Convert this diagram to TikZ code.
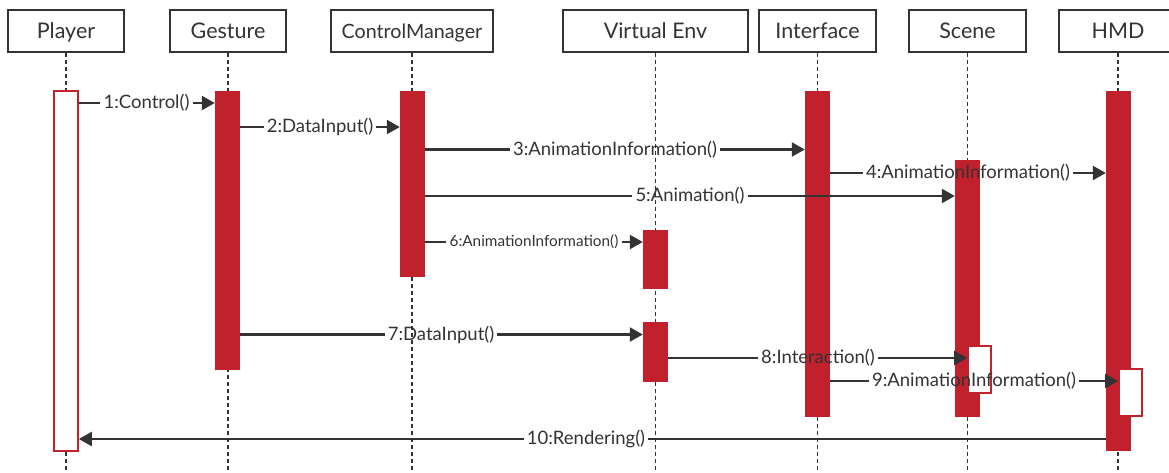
\documentclass[tikz,border=0pt]{standalone}
\usepackage{fontspec}
\setmainfont{Lato}
\usetikzlibrary{arrows.meta}
\definecolor{barred}{RGB}{193,33,44}
\definecolor{ink}{RGB}{51,51,51}
\begin{document}
\begin{tikzpicture}[x=1pt,y=-1pt,
  head/.style={draw=ink, line width=1.8pt, fill=white, minimum height=42pt, inner sep=0pt, text depth=0pt, text=ink, font=\fontsize{21.5}{24}\selectfont},
  life/.style={draw=ink, line width=1.9pt, dash pattern=on 4.5pt off 2.5pt},
  act/.style={fill=barred, draw=none, minimum width=25pt, inner sep=0pt},
  actw/.style={fill=white, draw=barred, line width=1.6pt, inner sep=0pt},
  msg/.style={draw=ink, line width=2.3pt},
  arr/.style={msg, -{Triangle[length=13pt,width=14pt]}},
  lbl/.style={text=ink, inner sep=3pt, font=\fontsize{18.5}{21}\selectfont},
  lbls/.style={lbl, font=\fontsize{15.3}{18}\selectfont}]
\useasboundingbox (0,0) rectangle (1169,472);
\coordinate (bottom) at (0,472);
% headers
\node[head, minimum width=116pt] (ph) at (66,31) {Player};
\node[head, minimum width=116pt] (gh) at (228,31) {Gesture};
\node[head, minimum width=162pt, font=\fontsize{19.7}{22}\selectfont] (ch) at (412,31) {ControlManager};
\node[head, minimum width=185pt] (vh) at (655.5,31) {Virtual Env};
\node[head, minimum width=117pt] (ih) at (817.5,31) {Interface};
\node[head, minimum width=117pt] (sh) at (967.5,31) {Scene};
\node[head, minimum width=118pt] (hh) at (1118,31) {HMD};
% lifelines
\foreach \h in {ph,gh,ch,vh,ih,sh,hh}
  \draw[life] (\h.south) -- (\h.south |- bottom);
% activation bars
\node[actw, minimum width=24pt, minimum height=360pt] (pb) at (66,271) {};
\node[act, minimum height=279pt] (gb) at (227.5,230.5) {};
\node[act, minimum height=186pt] (cb) at (412.5,184) {};
\node[act, minimum height=59pt] (v1) at (655.5,259.5) {};
\node[act, minimum height=60pt] (v2) at (655.5,352) {};
\node[act, minimum height=326pt] (ib) at (817.5,254) {};
\node[act, minimum height=257pt] (sb) at (967.5,288.5) {};
\node[actw, minimum width=23pt, minimum height=47pt] (sw) at (979.5,369.5) {};
\node[act, minimum height=360pt] (hb) at (1118.5,271) {};
\node[actw, minimum width=23pt, minimum height=47pt] (hw) at (1130.5,392.5) {};
% messages
\node[lbl] (l1) at (146.5,103) {1:Control()};
\draw[msg] (pb.east |- l1) -- (l1.west);
\draw[arr] (l1.east) -- (gb.west |- l1);
\node[lbl] (l2) at (320,127) {2:DataInput()};
\draw[msg] (gb.east |- l2) -- (l2.west);
\draw[arr] (l2.east) -- (cb.west |- l2);
\node[lbl] (l3) at (615,149.5) {3:AnimationInformation()};
\draw[msg] (cb.east |- l3) -- (l3.west);
\draw[arr] (l3.east) -- (ib.west |- l3);
\node[lbl] (l4) at (968,173) {4:AnimationInformation()};
\draw[msg] (ib.east |- l4) -- (l4.west);
\draw[arr] (l4.east) -- (hb.west |- l4);
\node[lbl] (l5) at (690,196) {5:Animation()};
\draw[msg] (cb.east |- l5) -- (l5.west);
\draw[arr] (l5.east) -- (sb.west |- l5);
\node[lbls] (l6) at (534,242) {6:AnimationInformation()};
\draw[msg] (cb.east |- l6) -- (l6.west);
\draw[arr] (l6.east) -- (v1.west |- l6);
\node[lbl] (l7) at (441,334.5) {7:DataInput()};
\draw[msg] (gb.east |- l7) -- (l7.west);
\draw[arr] (l7.east) -- (v2.west |- l7);
\node[lbl] (l8) at (818,358) {8:Interaction()};
\draw[msg] (v2.east |- l8) -- (l8.west);
\draw[arr] (l8.east) -- (sw.west |- l8);
\node[lbl] (l9) at (974,381) {9:AnimationInformation()};
\draw[msg] (ib.east |- l9) -- (l9.west);
\draw[arr] (l9.east) -- (hw.west |- l9);
\node[lbl] (l10) at (586,439) {10:Rendering()};
\draw[msg] (hb.west |- l10) -- (l10.east);
\draw[arr] (l10.west) -- (pb.east |- l10);
\end{tikzpicture}
\end{document}
